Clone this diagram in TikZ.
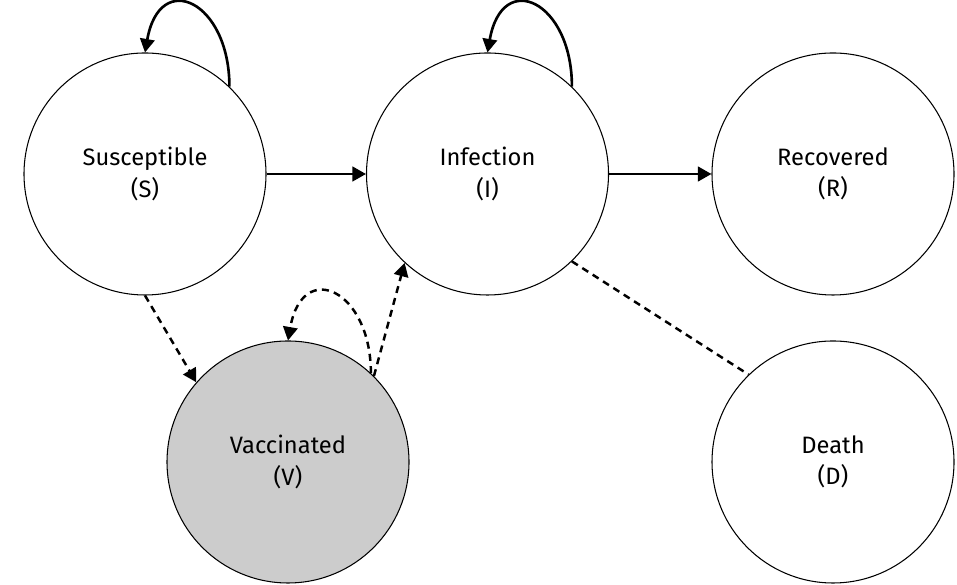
\documentclass[tikz,border=0pt]{standalone}
\usepackage{fontspec}
\setmainfont{Fira Sans}
\usetikzlibrary{arrows.meta}

\begin{document}
\begin{tikzpicture}[>={Triangle[length=2.7mm,width=2.9mm]},
  state/.style={circle,draw,line width=0.6pt,minimum size=4.84cm,inner sep=0pt,
    align=center,font=\fontsize{13.5}{18}\selectfont},
  flow/.style={->,line width=1.5pt},
  maybe/.style={line width=1.4pt,dash pattern=on 4pt off 3pt}]
  \useasboundingbox (0,0) rectangle (19.14,11.7);

  \node[state] (S) at (2.9,8.22)   {Susceptible\\(S)};
  \node[state] (I) at (9.75,8.22)  {Infection\\(I)};
  \node[state] (R) at (16.66,8.22) {Recovered\\(R)};
  \node[state,fill=black!20] (V) at (5.76,2.46) {Vaccinated\\(V)};
  \node[state] (D) at (16.66,2.46) {Death\\(D)};

  \draw[flow] (S) -- (I);
  \draw[flow] (I) -- (R);
  \draw[flow] (S.46) to[out=90,in=80,looseness=2.4] (S.90);
  \draw[flow] (I.46) to[out=90,in=80,looseness=2.4] (I.90);
  \draw[maybe,->] (S.270) -- (V.139);
  \draw[maybe,->] (V.47) to[out=90,in=80,looseness=2.4] (V.90);
  \draw[maybe,->] (V.45) -- (I.227);
  \draw[maybe] (I.-46) -- (D.134);
\end{tikzpicture}
\end{document}
